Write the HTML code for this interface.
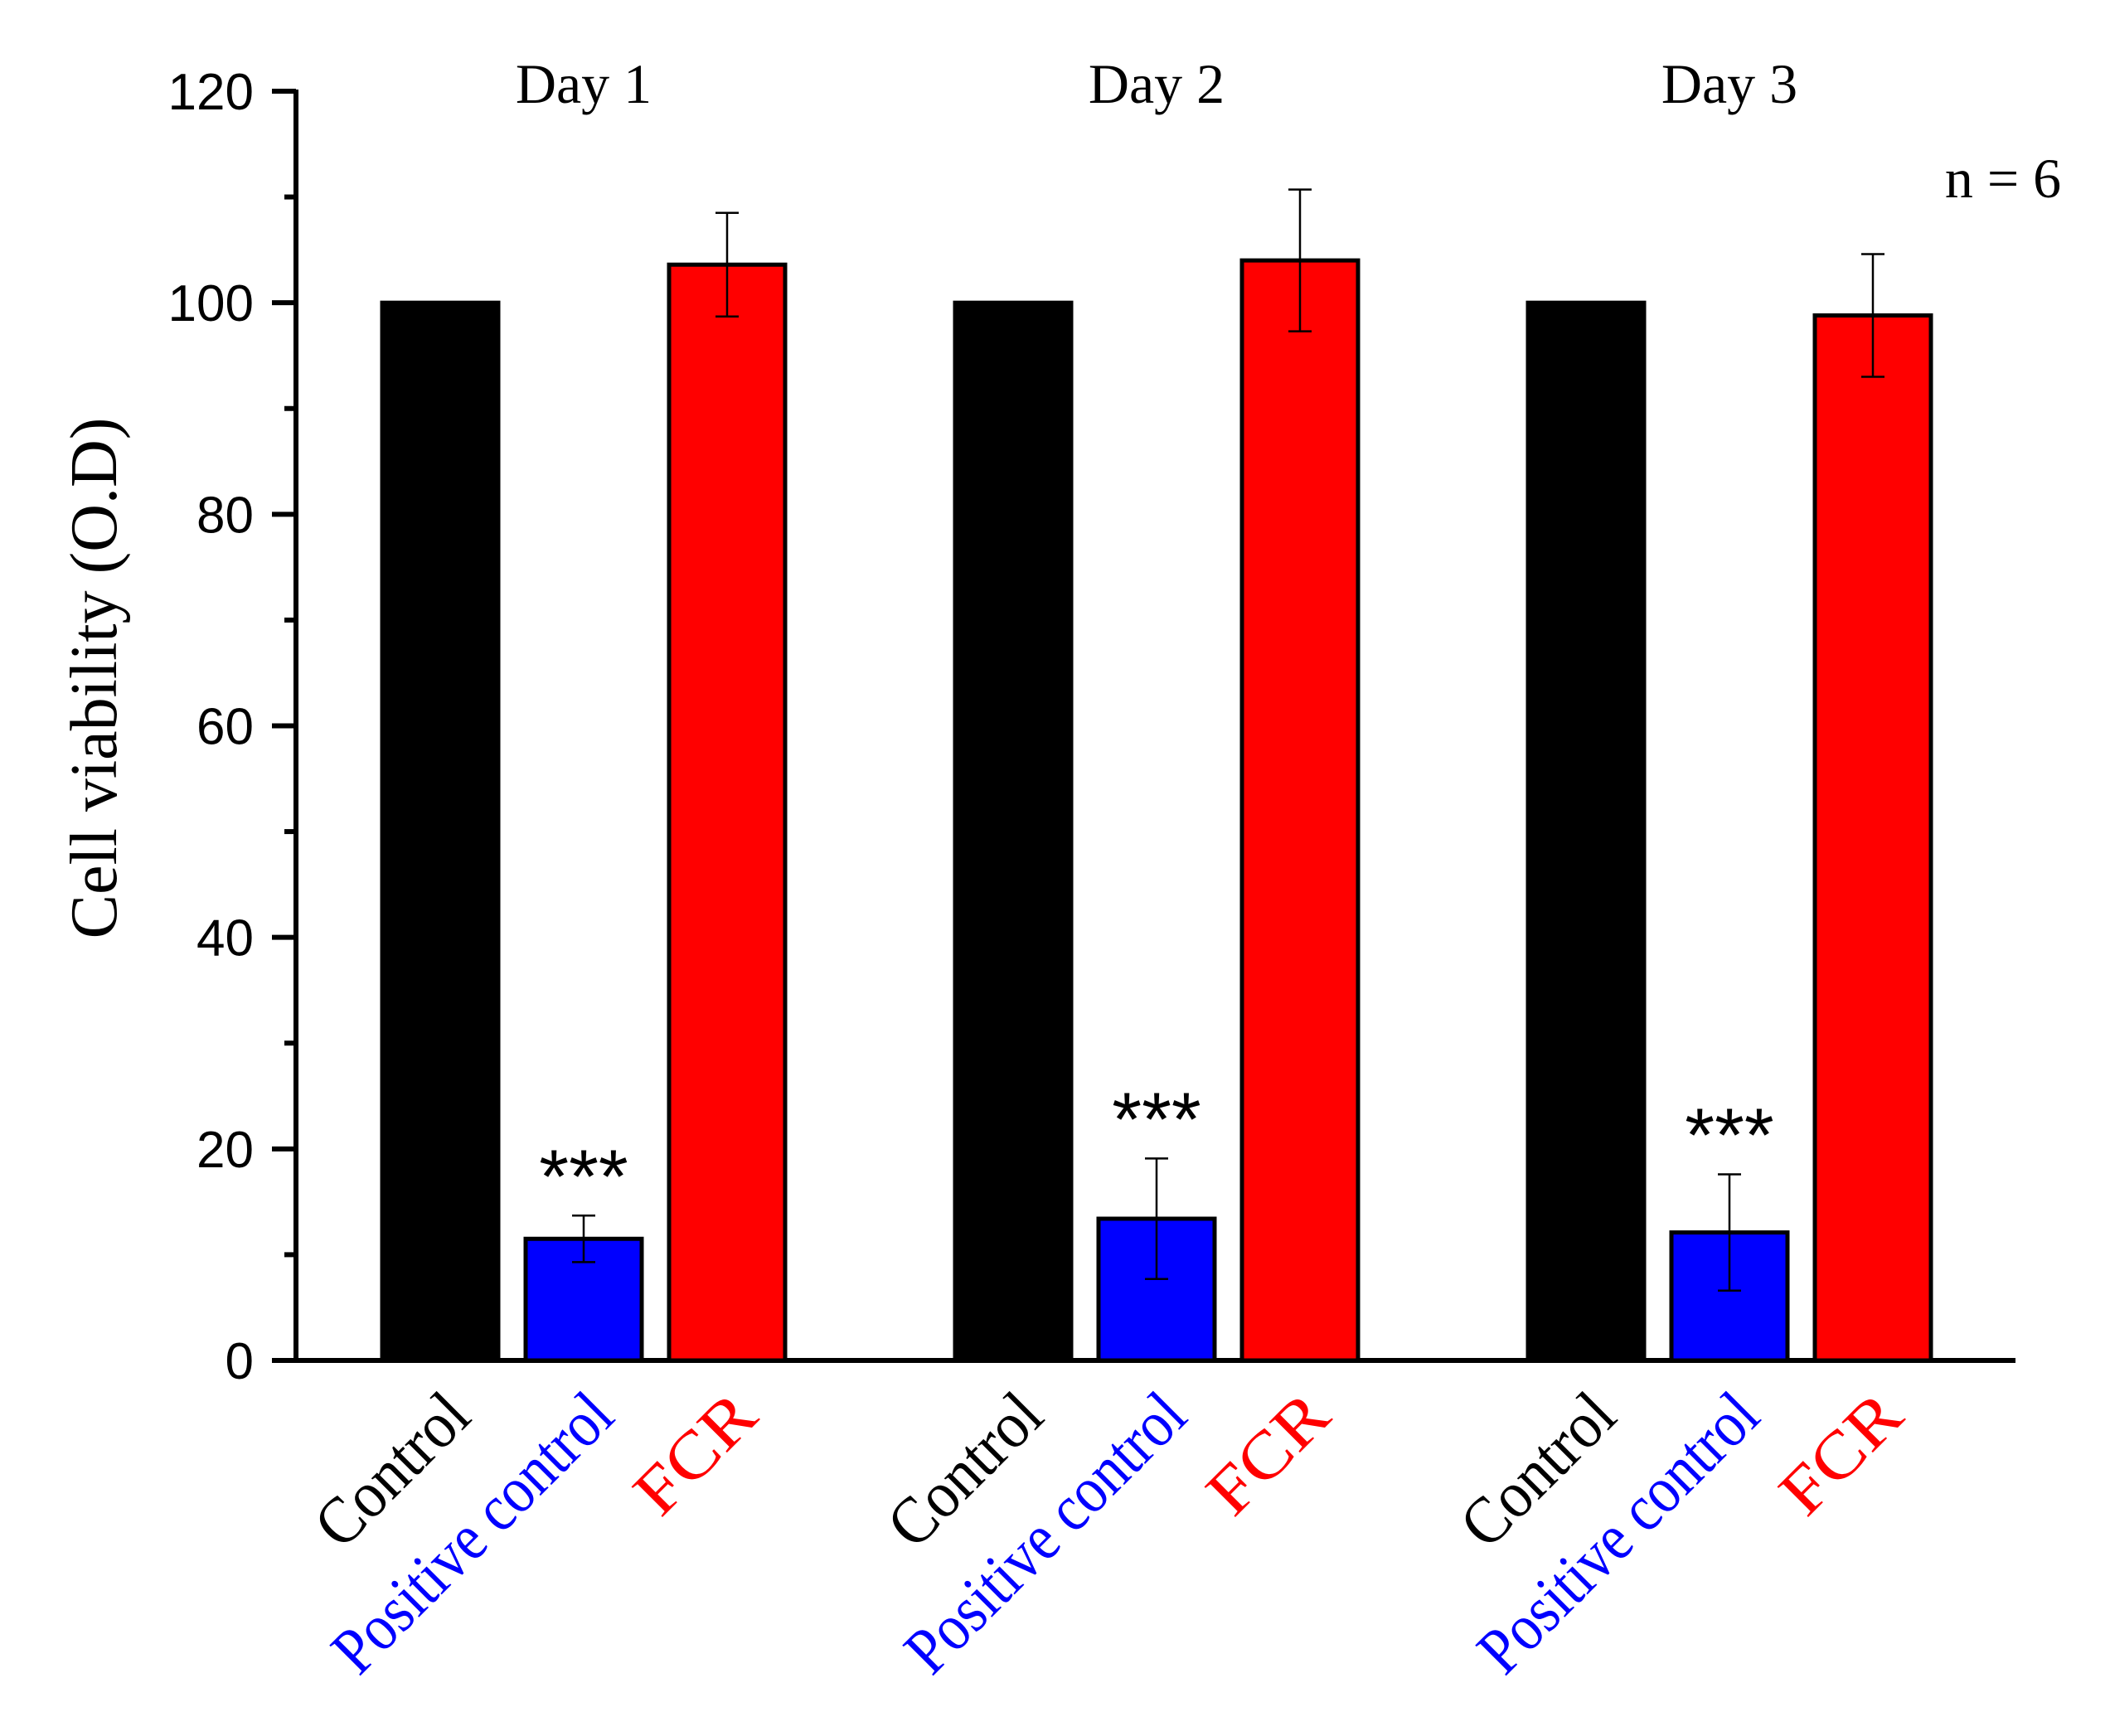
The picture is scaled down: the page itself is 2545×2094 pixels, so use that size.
<!DOCTYPE html>
<html><head><meta charset="utf-8"><style>html,body{margin:0;padding:0;background:#fff}svg{display:block}</style></head>
<body>
<svg id="chart" width="2545" height="2094" viewBox="0 0 2545 2094" xmlns="http://www.w3.org/2000/svg">
<g id="axes"></g>
<g id="bars"></g>
<g id="labels"></g>
<text x="2416" y="238" font-family="Liberation Serif, serif" font-size="68" text-anchor="middle">n = 6</text>
<text transform="translate(140,818) rotate(-90)" font-family="Liberation Serif, serif" font-size="80" text-anchor="middle">Cell viability (O.D)</text>
</svg>
<script>
const days = ["Day  1", "Day  2", "Day  3"];
const groups = ["Control", "Positive control", "FCR"];
const groupColors = ["#000000", "#0000ff", "#ff0000"];
const controlValues = [100, 100, 100];
const positiveValues = [11.5, 13.4, 12.1];
const positiveErrors = [2.2, 5.7, 5.5];
const fcrValues = [103.6, 104, 98.8];
const fcrErrors = [4.9, 6.7, 5.8];
const yTicks = [0, 20, 40, 60, 80, 100, 120];
const significance = ["***", "***", "***"];

const NS = "http://www.w3.org/2000/svg";
const X0 = 357, Y0 = 1641, Y120 = 110;
const labelLen = [225, 440, 170];
const y = v => Y0 - (v / 120) * (Y0 - Y120);
const groupStart = d => 461 + d * 691;
const barX = (d, i) => groupStart(d) + i * 173;
const BW = 140;
function mk(tag, attrs, parent) {
  const e = document.createElementNS(NS, tag);
  for (const k in attrs) e.setAttribute(k, attrs[k]);
  parent.appendChild(e); return e;
}
const axes = document.getElementById('axes');
const bars = document.getElementById('bars');
const labels = document.getElementById('labels');

let a = mk('line', {x1: X0, y1: Y120 - 2, x2: X0, y2: Y0, stroke: '#000', 'stroke-width': 6}, axes);


a = mk('line', {x1: 328, y1: Y0, x2: 2431, y2: Y0, stroke: '#000', 'stroke-width': 6}, axes);


for (let v = 0; v <= 120; v += 10) {
  const major = v % 20 === 0;
  const t = mk('line', {x1: major ? 328 : 343, y1: y(v), x2: X0, y2: y(v), stroke: '#000', 'stroke-width': 6}, axes);
  
  
}
yTicks.forEach(v => {
  const t = mk('text', {x: 306, y: y(v) + 22, 'text-anchor': 'end', 'font-family': 'Liberation Sans, sans-serif', 'font-size': 62}, axes);
  t.textContent = v;
  
  
});

function errBar(cx, v, e, name) {
  const g = mk('g', {stroke: '#000', 'stroke-width': 2.5}, bars);
  
  
  mk('line', {x1: cx, y1: y(v + e), x2: cx, y2: y(v - e)}, g);
  mk('line', {x1: cx - 14, y1: y(v + e), x2: cx + 14, y2: y(v + e)}, g);
  mk('line', {x1: cx - 14, y1: y(v - e), x2: cx + 14, y2: y(v - e)}, g);
}

days.forEach((d, di) => {
  const series = [[controlValues[di], 0], [positiveValues[di], positiveErrors[di]], [fcrValues[di], fcrErrors[di]]];
  series.forEach((s, i) => {
    const x = barX(di, i);
    const r = mk('rect', {x: x, y: y(s[0]), width: BW, height: Y0 - y(s[0]), fill: groupColors[i], stroke: '#000', 'stroke-width': 5}, bars);
    
    
    if (s[1] > 0) errBar(x + BW / 2, s[0], s[1], 'error-bar-day' + (di + 1) + '-' + i);
    const lt = mk('text', {transform: 'translate(' + (x + BW / 2 + 40) + ',' + 1712 + ') rotate(-45)', 'text-anchor': 'end', 'font-family': 'Liberation Serif, serif', 'font-size': 80, textLength: labelLen[i], lengthAdjust: 'spacingAndGlyphs', fill: groupColors[i]}, labels);
    lt.textContent = groups[i];
    
    
  });
  const st = mk('text', {x: barX(di, 1) + BW / 2, y: y(positiveValues[di] + positiveErrors[di] + 4.5) + 42, 'text-anchor': 'middle', 'font-family': 'Liberation Sans, sans-serif', 'font-size': 92}, labels);
  st.textContent = significance[di];
  
  
  const dt = mk('text', {x: barX(di, 1) + BW / 2, y: 124, 'text-anchor': 'middle', 'font-family': 'Liberation Serif, serif', 'font-size': 68, 'xml:space': 'preserve'}, labels);
  dt.textContent = d;
  
  
});
</script>
</body></html>
